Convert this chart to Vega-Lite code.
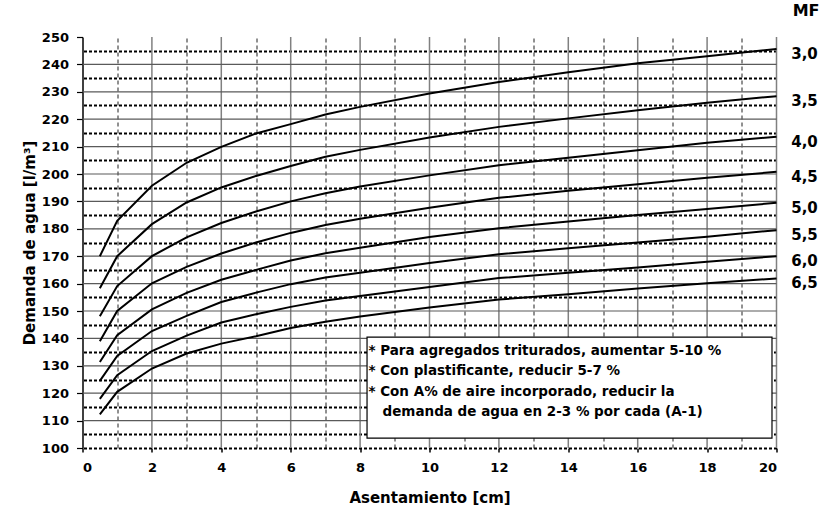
{
  "$schema": "https://vega.github.io/schema/vega-lite/v6.json",
  "width": 694,
  "height": 411,
  "autosize": {"type": "none"},
  "padding": {"left": 82.5, "top": 37, "right": 46.5, "bottom": 65},
  "background": "white",
  "config": {
    "view": {"stroke": null},
    "font": "DejaVu Sans",
    "axis": {"labelFontSize": 13, "labelFontWeight": "bold", "labelColor": "black", "labelFont": "DejaVu Sans", "titleFontSize": 15, "titleFontWeight": "bold", "titleColor": "black", "titleFont": "DejaVu Sans", "tickColor": "black", "labelOverlap": false}
  },
  "title": {"text": "MF", "anchor": "end", "frame": "group", "dx": 43, "offset": 12, "fontSize": 16, "fontWeight": "bold", "font": "DejaVu Sans", "color": "black"},
  "resolve": {"axis": {"x": "independent", "y": "independent"}},
  "datasets": {
    "gx": [{"g":2},{"g":4},{"g":6},{"g":8},{"g":10},{"g":12},{"g":14},{"g":16},{"g":18},{"g":20}],
    "gy": [{"g":110},{"g":120},{"g":130},{"g":140},{"g":150},{"g":160},{"g":170},{"g":180},{"g":190},{"g":200},{"g":210},{"g":220},{"g":230},{"g":240}]
  },
  "data": {"values": [
    {"s":0.5,"w":170,"mf":"3,0"},{"s":1,"w":182.9,"mf":"3,0"},{"s":2,"w":195.7,"mf":"3,0"},{"s":3,"w":204.1,"mf":"3,0"},{"s":4,"w":209.9,"mf":"3,0"},{"s":5,"w":214.8,"mf":"3,0"},{"s":6,"w":218.2,"mf":"3,0"},{"s":7,"w":221.7,"mf":"3,0"},{"s":8,"w":224.5,"mf":"3,0"},{"s":10,"w":229.4,"mf":"3,0"},{"s":12,"w":233.6,"mf":"3,0"},{"s":14,"w":237.1,"mf":"3,0"},{"s":16,"w":240.4,"mf":"3,0"},{"s":18,"w":243,"mf":"3,0"},{"s":20,"w":245.6,"mf":"3,0"},
    {"s":0.5,"w":158.3,"mf":"3,5"},{"s":1,"w":170,"mf":"3,5"},{"s":2,"w":181.7,"mf":"3,5"},{"s":3,"w":189.6,"mf":"3,5"},{"s":4,"w":195.1,"mf":"3,5"},{"s":5,"w":199.3,"mf":"3,5"},{"s":6,"w":202.9,"mf":"3,5"},{"s":7,"w":206.3,"mf":"3,5"},{"s":8,"w":208.8,"mf":"3,5"},{"s":10,"w":213.3,"mf":"3,5"},{"s":12,"w":217.2,"mf":"3,5"},{"s":14,"w":220.3,"mf":"3,5"},{"s":16,"w":223.3,"mf":"3,5"},{"s":18,"w":226,"mf":"3,5"},{"s":20,"w":228.4,"mf":"3,5"},
    {"s":0.5,"w":148.1,"mf":"4,0"},{"s":1,"w":159.1,"mf":"4,0"},{"s":2,"w":170,"mf":"4,0"},{"s":3,"w":176.9,"mf":"4,0"},{"s":4,"w":182.1,"mf":"4,0"},{"s":5,"w":186.3,"mf":"4,0"},{"s":6,"w":190,"mf":"4,0"},{"s":7,"w":193,"mf":"4,0"},{"s":8,"w":195.4,"mf":"4,0"},{"s":10,"w":199.5,"mf":"4,0"},{"s":12,"w":203.2,"mf":"4,0"},{"s":14,"w":205.9,"mf":"4,0"},{"s":16,"w":208.7,"mf":"4,0"},{"s":18,"w":211.4,"mf":"4,0"},{"s":20,"w":213.6,"mf":"4,0"},
    {"s":0.5,"w":139,"mf":"4,5"},{"s":1,"w":150,"mf":"4,5"},{"s":2,"w":160.1,"mf":"4,5"},{"s":3,"w":166.1,"mf":"4,5"},{"s":4,"w":171,"mf":"4,5"},{"s":5,"w":175,"mf":"4,5"},{"s":6,"w":178.5,"mf":"4,5"},{"s":7,"w":181.4,"mf":"4,5"},{"s":8,"w":183.7,"mf":"4,5"},{"s":10,"w":187.7,"mf":"4,5"},{"s":12,"w":191.3,"mf":"4,5"},{"s":14,"w":193.9,"mf":"4,5"},{"s":16,"w":196.3,"mf":"4,5"},{"s":18,"w":198.6,"mf":"4,5"},{"s":20,"w":200.8,"mf":"4,5"},
    {"s":0.5,"w":131.4,"mf":"5,0"},{"s":1,"w":141.2,"mf":"5,0"},{"s":2,"w":150.6,"mf":"5,0"},{"s":3,"w":156.6,"mf":"5,0"},{"s":4,"w":161.4,"mf":"5,0"},{"s":5,"w":165,"mf":"5,0"},{"s":6,"w":168.4,"mf":"5,0"},{"s":7,"w":171.1,"mf":"5,0"},{"s":8,"w":173.1,"mf":"5,0"},{"s":10,"w":177,"mf":"5,0"},{"s":12,"w":180.2,"mf":"5,0"},{"s":14,"w":182.7,"mf":"5,0"},{"s":16,"w":185,"mf":"5,0"},{"s":18,"w":187.2,"mf":"5,0"},{"s":20,"w":189.5,"mf":"5,0"},
    {"s":0.5,"w":124.5,"mf":"5,5"},{"s":1,"w":133.6,"mf":"5,5"},{"s":2,"w":142.7,"mf":"5,5"},{"s":3,"w":148.2,"mf":"5,5"},{"s":4,"w":153.3,"mf":"5,5"},{"s":5,"w":156.7,"mf":"5,5"},{"s":6,"w":159.8,"mf":"5,5"},{"s":7,"w":162.2,"mf":"5,5"},{"s":8,"w":164,"mf":"5,5"},{"s":10,"w":167.5,"mf":"5,5"},{"s":12,"w":170.7,"mf":"5,5"},{"s":14,"w":172.9,"mf":"5,5"},{"s":16,"w":175,"mf":"5,5"},{"s":18,"w":177.1,"mf":"5,5"},{"s":20,"w":179.5,"mf":"5,5"},
    {"s":0.5,"w":117.9,"mf":"6,0"},{"s":1,"w":126.6,"mf":"6,0"},{"s":2,"w":135.4,"mf":"6,0"},{"s":3,"w":141,"mf":"6,0"},{"s":4,"w":145.8,"mf":"6,0"},{"s":5,"w":148.8,"mf":"6,0"},{"s":6,"w":151.5,"mf":"6,0"},{"s":7,"w":153.8,"mf":"6,0"},{"s":8,"w":155.5,"mf":"6,0"},{"s":10,"w":158.8,"mf":"6,0"},{"s":12,"w":162,"mf":"6,0"},{"s":14,"w":164,"mf":"6,0"},{"s":16,"w":165.9,"mf":"6,0"},{"s":18,"w":168,"mf":"6,0"},{"s":20,"w":170,"mf":"6,0"},
    {"s":0.5,"w":112.3,"mf":"6,5"},{"s":1,"w":120.5,"mf":"6,5"},{"s":2,"w":129,"mf":"6,5"},{"s":3,"w":134.5,"mf":"6,5"},{"s":4,"w":138.1,"mf":"6,5"},{"s":5,"w":140.8,"mf":"6,5"},{"s":6,"w":143.8,"mf":"6,5"},{"s":7,"w":146.1,"mf":"6,5"},{"s":8,"w":148,"mf":"6,5"},{"s":10,"w":151.3,"mf":"6,5"},{"s":12,"w":154.2,"mf":"6,5"},{"s":14,"w":156.1,"mf":"6,5"},{"s":16,"w":158.2,"mf":"6,5"},{"s":18,"w":160.1,"mf":"6,5"},{"s":20,"w":161.9,"mf":"6,5"}
  ]},
  "layer": [
    {
      "data": {"name": "gx"},
      "mark": {"type": "rule", "color": "#808080", "strokeWidth": 1.5},
      "encoding": {"x": {"field": "g", "type": "quantitative", "axis": null}}
    },
    {
      "data": {"name": "gy"},
      "mark": {"type": "rule", "color": "#5a5a5a", "strokeWidth": 1.2},
      "encoding": {"y": {"field": "g", "type": "quantitative", "axis": null}}
    },
    {
      "mark": {"type": "line", "color": "black", "strokeWidth": 2},
      "encoding": {
        "x": {"field": "s", "type": "quantitative", "scale": {"domain": [0, 20], "nice": false, "zero": false},
          "axis": {"orient": "bottom", "title": "Asentamiento [cm]", "values": [0,2,4,6,8,10,12,14,16,18,20], "grid": false,
            "tickSize": 4, "tickWidth": 1.5, "domain": false, "labelPadding": 9, "titlePadding": 16}},
        "y": {"field": "w", "type": "quantitative", "scale": {"domain": [100, 250], "nice": false, "zero": false},
          "axis": {"orient": "left", "title": "Demanda de agua [l/m³]", "values": [100,110,120,130,140,150,160,170,180,190,200,210,220,230,240,250], "grid": false,
            "tickSize": 6, "tickWidth": 1.2, "domain": true, "domainColor": "black", "domainWidth": 1.5, "labelPadding": 8, "titlePadding": 4}},
        "detail": {"field": "mf"}
      }
    },
    {
      "transform": [{"filter": "datum.s == 20"}],
      "mark": {"type": "text", "dx": 28, "dy": 5, "fontSize": 15, "fontWeight": "bold", "color": "black", "align": "center", "baseline": "middle", "font": "DejaVu Sans"},
      "encoding": {
        "x": {"field": "s", "type": "quantitative",
          "axis": {"orient": "top", "title": null, "values": [1,3,5,7,9,11,13,15,17,19], "grid": true, "gridColor": "#222222", "gridWidth": 1, "gridDash": [4, 3],
            "labels": false, "ticks": false, "domain": false}},
        "y": {"field": "w", "type": "quantitative", "axis": null},
        "text": {"field": "mf"}
      }
    },
    {
      "data": {"values": [{}]},
      "mark": {"type": "rect", "fill": "white", "stroke": "black", "strokeWidth": 1.2},
      "encoding": {
        "x": {"datum": 8.2, "type": "quantitative", "axis": null},
        "x2": {"datum": 19.87},
        "y": {"datum": 140.5, "type": "quantitative",
          "axis": {"orient": "right", "title": null, "values": [100,105,115,125,135,145,155,165,175,185,195,205,215,225,235,245], "grid": true, "gridColor": "black", "gridWidth": 2, "gridDash": [3, 2],
            "labels": false, "ticks": false, "domain": false}},
        "y2": {"datum": 103.6}
      }
    },
    {
      "data": {"values": [{}]},
      "mark": {
        "type": "text", "align": "left", "baseline": "top", "fontSize": 13.5, "fontWeight": "bold", "lineHeight": 20.5, "color": "black", "font": "DejaVu Sans",
        "text": ["* Para agregados triturados, aumentar 5-10 %", "* Con plastificante, reducir 5-7 %", "* Con A% de aire incorporado, reducir la", "\u200b\u00a0\u00a0\u00a0demanda de agua en 2-3 % por cada (A-1)"]
      },
      "encoding": {
        "x": {"datum": 8.24, "type": "quantitative", "axis": null},
        "y": {"datum": 138.1, "type": "quantitative", "axis": null}
      }
    }
  ]
}
